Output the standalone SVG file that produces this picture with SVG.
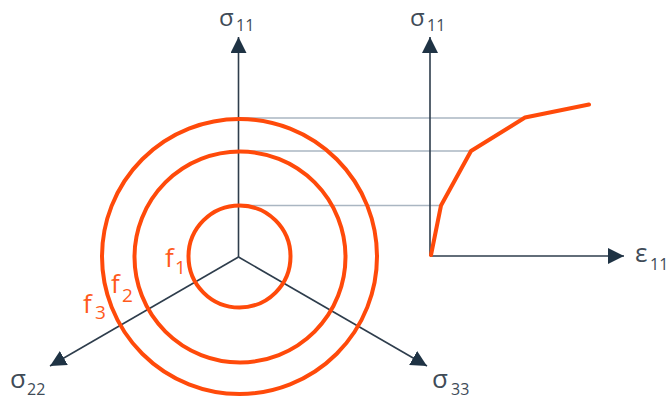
<svg xmlns="http://www.w3.org/2000/svg" width="670" height="403" viewBox="0 0 670 403">
<style>
.axis{stroke:#2e3d4c;stroke-width:1.6;fill:none}
.guide{stroke:#aab6c2;stroke-width:1.3;fill:none}
.yield{stroke:#ff4a0a;stroke-width:4;fill:none}
.curve{stroke:#ff4a0a;stroke-width:4;fill:none;stroke-linejoin:round;stroke-linecap:round}
.lbl{font-family:"Open Sans","DejaVu Sans",sans-serif;fill:#404b57}
.flbl{font-family:"Open Sans","DejaVu Sans",sans-serif;fill:#ff5a1c}
.big{font-size:26px}
.sub{font-size:16px}
.fbig{font-size:26px}
.fsub{font-size:19px}
</style>
<defs>
<marker id="arr" viewBox="0 0 16 16" refX="16" refY="8" markerWidth="16" markerHeight="16" markerUnits="userSpaceOnUse" orient="auto">
<path d="M0,0 L16,8 L0,16 Z" fill="#1f3344"/>
</marker>
</defs>
<g id="connectors">
<line class="guide" x1="238.5" y1="118" x2="525" y2="118"/>
<line class="guide" x1="238.5" y1="151" x2="471" y2="151"/>
<line class="guide" x1="238.5" y1="205.5" x2="441" y2="205.5"/>
<line class="axis" x1="238.5" y1="257" x2="238.5" y2="37" marker-end="url(#arr)"/>
<line class="axis" x1="238.5" y1="257" x2="50" y2="366" marker-end="url(#arr)"/>
<line class="axis" x1="238.5" y1="257" x2="427" y2="366" marker-end="url(#arr)"/>
<line class="axis" x1="430" y1="256" x2="430" y2="37" marker-end="url(#arr)"/>
<line class="axis" x1="430" y1="256" x2="624" y2="256" marker-end="url(#arr)"/>
</g>
<g id="yield-surfaces">
<circle class="yield" cx="239.5" cy="256.5" r="51"/>
<circle class="yield" cx="240" cy="257" r="105.5"/>
<circle class="yield" cx="239.5" cy="256.5" r="137.5"/>
</g>
<g id="stress-strain-curve">
<polyline class="curve" points="431,255 441,205.5 471,151 525,117.5 589,104.5"/>
</g>
<g id="labels">
<text class="lbl" font-size="24" x="219" y="26">σ</text><text class="lbl sub" x="236" y="31">11</text>
<text class="lbl" font-size="24" x="410" y="26">σ</text><text class="lbl sub" x="427" y="31">11</text>
<text class="lbl big" x="10" y="388">σ</text><text class="lbl sub" x="27" y="395">22</text>
<text class="lbl big" x="432" y="388">σ</text><text class="lbl sub" x="451" y="395">33</text>
<text class="lbl big" x="635" y="262">ε</text><text class="lbl sub" x="650" y="270">11</text>
<text class="flbl fbig" x="165" y="267">f</text><text class="flbl fsub" x="175" y="274">1</text>
<text class="flbl fbig" x="111" y="293">f</text><text class="flbl fsub" x="122" y="302">2</text>
<text class="flbl fbig" x="83" y="313">f</text><text class="flbl fsub" x="95" y="319">3</text>
</g>
</svg>
